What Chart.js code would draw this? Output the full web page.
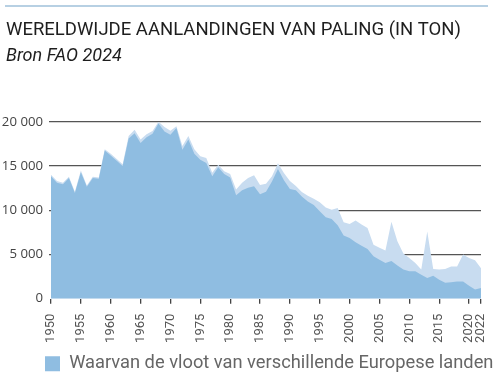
<!DOCTYPE html>
<html>
<head>
<meta charset="utf-8">
<script src="https://cdn.jsdelivr.net/npm/chart.js@4.4.1/dist/chart.umd.min.js"></script>
<style>
  html, body { margin: 0; padding: 0; background: #fff; }
  #wrap { width: 496px; height: 375px; }
</style>
</head>
<body>
<div id="wrap"><canvas id="palingChart"></canvas></div>
<script>
const years = [];
for (let y = 1950; y <= 2022; y++) years.push(String(y));

// total world landings (light area)
const totalLandings = [
  14000, 13300, 13100, 13800, 12100, 14500, 12800, 13800, 13700, 16900,
  16400, 15800, 15200, 18400, 19100, 18000, 18600, 18950, 20000, 19400,
  19000, 19500, 17250, 18400, 16900, 16100, 15900, 14250, 15150, 14400,
  14100, 12350, 13100, 13650, 13950, 12850, 13000, 13850, 15300, 14200,
  13300, 12750, 12050, 11650, 11300, 10900, 10300, 10050, 10250, 8650,
  8450, 8850, 8400, 8000, 6100, 5750, 5450, 8700, 6500, 5100,
  4600, 4050, 3300, 7600, 3350, 3300, 3350, 3650, 3650, 5000,
  4600, 4350, 3450
];

// of which by European fleets (dark area)
const europeanFleet = [
  13850, 13100, 12950, 13650, 11950, 14300, 12650, 13650, 13550, 16750,
  16200, 15600, 15000, 18100, 18700, 17600, 18250, 18650, 19800, 18900,
  18550, 19300, 16850, 18000, 16400, 15700, 15350, 13850, 14850, 14100,
  13700, 11700, 12250, 12550, 12700, 11800, 12100, 13250, 14650, 13400,
  12400, 12250, 11550, 11000, 10600, 9900, 9200, 9000, 8300, 7150,
  6870, 6380, 6000, 5620, 4800, 4400, 4050, 4250, 3750, 3300,
  3100, 3100, 2700, 2350, 2600, 2150, 1800, 1850, 1950, 1950,
  1450, 1050, 1200
];

const yTicks = [0, 5000, 10000, 15000, 20000];

// thin rule above the title, legend nudged to where it sits in the print,
// y labels allowed to run into the left margin
const extras = {
  id: 'extras',
  afterLayout(chart) {
    const lg = chart.legend;
    lg.left += 35;
    lg.right += 35;
    lg.width += 35;
    lg.top += 8;
    lg.bottom += 8;
    chart.scales.y.left = 0;
  },
  beforeDraw(chart) {
    const c = chart.ctx;
    c.save();
    c.strokeStyle = '#9fc0da';
    c.lineWidth = 1.5;
    c.beginPath();
    c.moveTo(5, 6);
    c.lineTo(488, 6);
    c.stroke();
    c.restore();
  }
};

const ctx = document.getElementById('palingChart').getContext('2d');

new Chart(ctx, {
  type: 'line',
  data: {
    labels: years,
    datasets: [{
      label: 'Waarvan de vloot van verschillende Europese landen',
      data: europeanFleet,
      backgroundColor: '#8fbde1',
      borderColor: '#8fbde1',
      borderWidth: 0,
      fill: 'origin',
      tension: 0,
      pointRadius: 0
    }, {
      label: 'Totaal',
      data: totalLandings,
      backgroundColor: '#c8dcf0',
      borderColor: '#c8dcf0',
      borderWidth: 0,
      fill: 'origin',
      tension: 0,
      pointRadius: 0
    }]
  },
  options: {
    responsive: true,
    maintainAspectRatio: false,
    animation: false,
    layout: { padding: { left: 6, right: 15, top: 0, bottom: 0 } },
    scales: {
      x: {
        afterFit: function (scale) {
          scale.height = 44;
          scale.paddingLeft = 0;
          scale.paddingRight = 0;
        },
        grid: { drawOnChartArea: false, drawTicks: true, tickLength: 5, color: '#444', lineWidth: 1.3 },
        border: { display: false },
        ticks: {
          autoSkip: false,
          maxRotation: 90,
          minRotation: 90,
          padding: 10,
          color: '#555',
          font: { family: 'Roboto', size: 13 },
          callback: function (value, index) {
            const y = Number(years[index]);
            return (y % 5 === 0 || y === 2022) ? years[index] : null;
          }
        }
      },
      y: {
        min: 0,
        max: 20000,
        afterBuildTicks: function (scale) {
          scale.ticks = yTicks.map(v => ({ value: v }));
        },
        afterFit: function (scale) { scale.width = 45; },
        grid: {
          drawTicks: true,
          tickLength: 2,
          color: ctx => ctx.tick && ctx.tick.value === 0 ? 'rgba(0,0,0,0)' : '#555',
          lineWidth: 1.2
        },
        border: { display: false },
        ticks: {
          padding: 6,
          color: '#444',
          font: { family: 'Open Sans', size: 13.2 },
          callback: function (value) {
            return String(value).replace(/\B(?=(\d{3})+(?!\d))/g, ' ');
          }
        }
      }
    },
    plugins: {
      title: {
        display: true,
        text: 'WERELDWIJDE AANLANDINGEN VAN PALING (IN TON)',
        align: 'start',
        color: '#1e1e1e',
        font: { family: 'Roboto', size: 18.5, weight: 'normal' },
        padding: { top: 19.5, bottom: 3.5 }
      },
      subtitle: {
        display: true,
        text: 'Bron FAO 2024',
        align: 'start',
        color: '#1e1e1e',
        font: { family: 'Roboto', size: 18, style: 'italic', weight: 'normal' },
        padding: { top: 0, bottom: 55 }
      },
      legend: {
        position: 'bottom',
        align: 'start',
        labels: {
          filter: item => item.datasetIndex === 0,
          boxWidth: 15,
          boxHeight: 15,
          padding: 4,
          color: '#666',
          font: { family: 'Roboto', size: 18.3 }
        }
      },
      tooltip: { enabled: false }
    }
  },
  plugins: [extras]
});
</script>
</body>
</html>
